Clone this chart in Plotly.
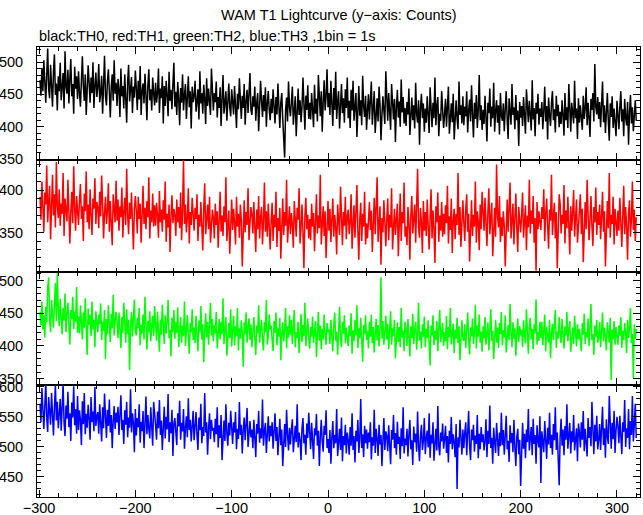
import plotly.graph_objects as go
from plotly.subplots import make_subplots

START_BIN = -299  # first 1-s bin (seconds)

th0_black = [
472,448,491,455,503,462,437,480,521,458,444,496,470,431,486,512,449,467,425,478,
455,499,441,470,483,428,517,462,451,488,436,474,505,447,466,420,493,459,478,443,
486,452,431,472,509,463,440,481,418,457,495,468,437,476,452,500,429,463,484,446,
461,497,438,452,479,420,466,510,447,433,470,489,455,414,462,481,440,503,451,468,
432,474,458,415,490,447,463,428,481,452,406,470,496,439,455,477,421,462,445,487,
459,426,471,442,494,418,455,467,436,482,449,410,463,489,441,458,425,476,452,433,
468,437,452,490,421,459,444,478,405,463,432,471,448,416,485,440,457,427,466,499,
431,454,418,469,443,402,460,437,481,425,449,466,412,444,478,430,455,397,462,438,
447,471,423,439,458,411,486,436,452,420,465,443,404,475,432,459,441,418,490,446,
425,452,438,470,414,446,429,461,401,443,480,420,437,455,409,448,467,430,416,458,
441,419,463,432,398,451,427,475,436,412,448,429,466,403,439,457,421,444,483,426,
418,447,431,462,409,436,452,393,428,471,440,415,449,424,461,400,437,455,426,410,
443,421,458,430,405,446,419,467,433,398,437,452,412,389,352,427,445,408,470,431,
416,439,462,403,428,447,385,433,459,418,441,407,430,476,421,395,448,426,464,412,
437,411,452,428,399,465,420,443,408,480,431,416,455,392,438,472,425,447,489,430,
452,418,471,433,401,460,426,485,412,439,455,397,430,466,421,444,406,458,429,476,
413,440,398,457,425,471,409,436,452,384,428,463,417,441,402,479,431,415,448,395,
426,450,411,437,470,403,429,455,390,421,444,408,462,433,379,418,447,425,404,486,
437,409,452,420,395,466,428,411,443,376,431,457,414,439,400,473,422,446,405,429,
401,438,419,459,387,426,445,410,433,397,468,420,406,441,372,429,451,413,436,392,
428,406,447,418,390,461,425,399,437,413,476,402,431,446,385,420,409,455,427,398,
419,443,400,427,462,389,415,436,407,451,380,424,441,412,396,470,418,433,405,447,
402,431,416,455,391,425,442,408,464,419,383,437,412,449,398,426,480,410,433,395,
426,404,448,415,377,437,421,459,400,431,413,468,392,424,441,406,433,388,452,417,
409,436,393,427,455,412,381,444,420,403,466,418,430,396,449,410,425,370,438,414,
432,401,446,419,389,458,425,407,440,415,394,472,411,429,385,437,420,451,403,428,
415,438,396,424,462,408,432,380,445,418,401,436,455,410,427,391,448,416,434,399,
423,404,441,417,386,452,410,430,398,466,414,392,437,420,405,471,413,428,381,444,
406,433,419,395,448,412,428,461,402,437,415,384,443,426,452,408,497,431,419,446,
412,438,399,425,470,407,433,390,421,452,409,378,436,415,447,398,428,412,385,440,
419,396,431,455,408,427,385,443,414,402,438,372,421,449,405,430,393,416,441,409,
]

th1_red = [
392,365,410,378,351,397,383,429,362,388,405,342,379,418,370,395,356,433,381,367,
401,358,384,372,420,346,390,377,363,412,385,337,374,398,361,428,379,352,393,370,
359,388,407,366,381,340,396,375,422,362,383,354,401,371,347,390,378,414,360,386,
380,355,398,369,417,384,343,373,392,360,376,408,351,387,368,335,395,379,362,411,
364,389,352,381,368,403,344,374,391,359,425,371,348,385,366,397,356,330,378,393,
375,349,392,366,384,338,371,405,360,379,354,387,368,415,343,376,362,396,357,382,
358,385,370,344,399,362,377,351,388,365,410,339,372,356,383,327,369,394,361,378,
371,346,389,362,380,355,397,341,376,435,360,383,350,368,402,337,374,359,391,365,
352,379,366,395,340,371,357,386,362,329,378,408,348,365,383,354,392,338,369,377,
367,343,384,359,375,332,364,398,351,370,346,381,362,415,340,357,376,325,368,389,
353,378,361,336,392,357,372,344,383,365,310,369,388,350,374,359,402,341,366,380,
372,349,386,360,327,377,354,393,343,368,380,336,362,409,351,375,345,384,358,330,
364,385,340,371,356,398,333,367,352,379,319,362,390,347,374,358,412,338,369,381,
348,373,359,332,387,361,345,379,365,402,337,356,383,350,308,369,391,354,371,343,
366,341,384,357,373,328,362,395,349,370,355,418,336,364,381,346,375,320,359,387,
352,378,339,366,390,345,371,356,324,383,361,347,404,368,335,374,358,392,342,369,
377,348,363,395,331,359,382,344,370,406,352,318,366,385,340,372,357,398,336,361,
343,369,386,353,376,327,362,391,348,373,415,339,358,381,312,367,350,388,363,334,
365,390,341,371,356,402,330,360,378,347,369,384,322,355,396,340,374,361,409,345,
357,335,380,362,318,371,393,349,366,383,338,372,425,356,344,379,361,326,387,352,
374,346,389,358,330,367,401,343,376,355,314,381,362,397,339,370,352,386,345,372,
348,382,361,405,337,369,353,390,326,364,378,342,372,359,420,347,380,333,366,388,
362,340,377,395,351,372,316,365,388,346,371,357,410,338,375,363,329,383,354,398,
378,352,391,360,334,374,402,348,367,385,322,362,379,345,430,370,356,393,339,368,
346,375,358,310,366,389,351,377,409,343,369,384,336,361,396,355,327,380,364,350,
371,397,344,365,382,329,370,356,412,349,376,360,393,338,367,305,386,354,375,362,
353,380,366,401,340,372,390,358,331,377,364,418,347,369,385,343,374,308,362,395,
384,349,371,360,406,337,376,355,392,366,324,381,352,373,400,345,367,389,338,361,
370,395,348,378,315,363,386,354,412,372,341,365,393,357,334,380,362,403,347,374,
359,383,342,369,398,351,375,310,366,387,355,420,344,371,360,392,336,378,363,346,
376,352,391,364,333,370,405,348,380,357,318,373,388,345,366,410,353,377,340,368,
]

th2_green = [
452,431,468,425,447,413,460,436,489,505,442,421,470,450,428,463,496,438,511,455,
430,472,446,418,458,439,480,421,449,466,433,402,455,441,475,426,452,437,490,420,
445,419,462,436,410,451,428,473,441,386,457,432,447,415,468,425,440,398,453,437,
421,448,433,465,409,437,423,455,380,441,418,462,430,406,449,427,478,416,438,452,
438,412,451,427,397,444,420,466,431,405,456,418,440,363,429,452,414,436,471,423,
416,443,427,458,401,432,419,448,410,475,425,394,438,421,453,407,430,446,415,461,
433,408,452,424,391,440,417,463,428,403,447,419,436,470,412,425,384,443,421,455,
411,437,420,459,398,426,444,405,431,415,468,400,429,447,414,388,435,421,456,409,
428,404,446,418,392,439,421,461,410,433,375,424,450,413,437,402,428,466,416,441,
407,432,419,452,396,425,441,410,437,418,473,403,428,444,385,420,435,412,456,399,
422,446,401,430,415,458,393,427,411,439,420,368,436,418,451,405,429,442,409,433,
398,427,444,413,386,431,419,462,405,426,440,410,393,437,421,470,402,416,448,425,
431,409,392,438,420,451,401,427,414,443,378,419,436,407,425,458,396,430,413,447,
417,440,403,426,455,398,421,412,437,389,428,449,406,432,415,466,400,424,442,410,
396,429,414,445,405,421,438,383,419,452,408,431,395,426,410,448,417,402,435,421,
425,403,440,417,392,433,451,408,422,386,429,460,411,398,437,419,447,404,428,413,
400,431,415,450,388,424,407,439,416,462,397,427,412,443,405,376,432,418,447,409,
423,396,437,414,448,404,429,390,419,441,408,432,399,425,505,411,438,402,420,446,
410,434,395,421,453,402,427,415,440,381,418,436,406,429,398,458,413,424,392,437,
427,400,441,416,384,430,412,449,403,425,437,394,419,466,408,422,396,433,414,445,
398,426,412,439,405,370,431,416,447,401,423,409,438,392,427,455,406,418,435,400,
421,407,446,395,429,413,458,402,418,434,389,425,411,443,404,430,378,417,439,412,
408,433,397,424,451,410,387,428,415,442,403,420,463,396,431,414,448,405,422,391,
430,411,444,402,419,436,393,427,456,408,423,380,414,440,405,428,397,435,418,452,
401,424,413,447,390,418,432,409,464,421,398,436,411,427,385,419,442,406,430,416,
425,398,439,415,404,456,417,388,428,443,410,426,395,433,419,471,402,421,408,437,
412,437,401,423,448,392,429,414,405,440,381,418,434,409,426,455,397,422,411,444,
419,404,441,412,396,430,416,452,407,424,438,391,415,428,403,446,420,399,433,410,
426,408,392,435,417,449,403,421,413,442,400,427,464,409,418,386,431,414,440,405,
413,437,398,422,451,407,428,415,393,436,419,405,443,348,425,410,438,402,429,417,
402,431,416,444,397,423,409,435,420,389,440,412,427,458,404,418,351,433,411,426,
]

th3_blue = [
572,541,598,556,530,567,610,548,525,583,559,537,590,552,519,566,604,544,575,531,
553,580,527,562,606,540,518,569,547,592,533,556,510,574,549,601,536,563,522,585,
528,561,545,503,576,538,590,521,555,532,570,547,512,583,541,559,526,600,535,550,
558,522,571,540,509,566,531,589,546,515,562,535,579,524,553,498,543,568,530,557,
541,567,520,552,586,528,545,505,561,537,575,516,549,532,596,524,556,540,491,563,
519,548,533,571,507,542,526,560,498,538,584,521,553,530,514,566,537,502,575,545,
536,512,559,531,578,520,544,495,533,567,514,550,529,588,508,541,523,562,485,539,
548,521,503,556,534,577,512,540,526,563,497,532,551,516,581,528,545,509,537,560,
511,537,558,520,495,549,528,572,506,533,518,590,524,541,487,530,556,513,545,527,
532,508,547,521,566,499,536,515,553,478,527,544,510,571,523,502,540,519,560,531,
505,541,524,558,496,530,513,575,520,537,489,528,549,511,535,565,500,525,543,516,
529,498,545,517,483,538,522,560,507,531,514,579,502,526,540,490,518,551,509,535,
518,541,497,525,556,510,533,486,520,547,503,529,468,515,538,500,562,521,494,532,
504,529,546,491,517,535,508,571,499,524,512,478,531,548,506,520,487,539,515,557,
525,496,540,513,480,531,519,555,502,527,468,516,545,509,492,535,520,561,498,513,
490,528,472,515,543,498,520,506,563,485,512,530,495,549,476,518,503,537,489,524,
511,487,533,502,556,495,518,474,527,509,545,490,514,580,498,521,483,535,506,529,
497,524,508,541,479,516,502,562,490,530,513,485,537,504,520,468,511,548,495,526,
519,493,536,507,471,528,512,553,498,523,487,542,505,517,480,531,501,566,489,514,
503,530,484,520,545,496,511,470,534,508,522,492,559,502,476,518,537,495,510,548,
488,515,527,499,556,482,520,506,541,477,513,530,494,568,501,486,524,509,539,497,
512,535,490,518,474,527,505,550,496,521,508,483,538,430,516,499,545,510,487,529,
498,524,541,486,513,560,502,478,529,511,537,492,519,505,553,481,522,496,533,508,
521,494,510,546,483,527,505,569,498,515,472,532,508,490,540,516,485,524,501,557,
503,528,487,519,552,496,510,475,536,507,523,491,545,500,468,517,530,488,512,435,
515,540,497,522,481,529,508,563,494,518,533,486,547,505,520,472,536,510,499,551,
440,526,508,491,543,515,480,532,504,557,498,520,487,538,511,566,495,524,479,436,
518,547,502,529,486,535,512,571,497,521,540,489,526,508,553,494,517,531,476,539,
525,499,541,512,560,493,530,507,484,548,515,533,501,575,520,488,537,509,552,496,
512,538,495,524,567,503,531,482,546,518,505,585,521,497,540,513,560,490,527,550,
534,506,552,519,488,541,525,578,500,531,515,563,496,543,520,585,509,537,572,515,
]

series = [
    ("TH0", th0_black, "#000000", [349, 523.5]),
    ("TH1", th1_red, "#ff0000", [303.5, 436]),
    ("TH2", th2_green, "#00ff00", [341, 513]),
    ("TH3", th3_blue, "#0000ff", [416.5, 604]),
]

x_ticks = [-300, -200, -100, 0, 100, 200, 300]
FONT = "Liberation Sans, Arial, Helvetica, sans-serif"

fig = make_subplots(rows=4, cols=1, shared_xaxes=True, vertical_spacing=0)

for i, (name, vals, col, yr) in enumerate(series, start=1):
    xs = list(range(START_BIN, START_BIN + len(vals)))
    fig.add_trace(go.Scatter(x=xs, y=vals, mode="lines", name=name,
                             line=dict(color=col, width=1.5), showlegend=False),
                  row=i, col=1)
    fig.update_yaxes(range=yr, dtick=50, tick0=0, ticks="inside", ticklen=7,
                     tickcolor="black", showline=True, linecolor="black",
                     linewidth=1, mirror="allticks", showgrid=False,
                     zeroline=False, automargin=False, ticklabelstandoff=10,
                     minor=dict(dtick=10, ticklen=4, ticks="inside",
                                tickcolor="black", showgrid=False),
                     tickfont=dict(family=FONT, size=14.5, color="black"),
                     row=i, col=1)
    fig.update_xaxes(range=[-302.1, 323.9], tickvals=x_ticks, ticks="inside",
                     ticklen=7, tickcolor="black", showline=True,
                     linecolor="black", linewidth=1, mirror="allticks",
                     showgrid=False, zeroline=False, automargin=False,
                     ticklabelstandoff=-2,
                     minor=dict(dtick=20, tick0=0, ticklen=4, ticks="inside",
                                tickcolor="black", showgrid=False),
                     tickfont=dict(family=FONT, size=14.5, color="black"),
                     row=i, col=1)

fig.update_layout(
    width=643, height=515,
    margin=dict(l=37, r=3, t=47, b=18, autoexpand=False),
    plot_bgcolor="white", paper_bgcolor="white",
    font=dict(family=FONT, size=14.5, color="black"),
    annotations=[
        dict(text="WAM T1 Lightcurve (y\u2212axis: Counts)", xref="paper",
             yref="paper", x=0.5, y=1 + (47 - 15) / 450, xanchor="center",
             yanchor="middle", showarrow=False,
             font=dict(family=FONT, size=14.5, color="black")),
        dict(text="black:TH0, red:TH1, green:TH2, blue:TH3 ,1bin = 1s",
             xref="paper", yref="paper", x=0, y=1 + (47 - 36) / 450,
             xanchor="left", yanchor="middle", showarrow=False,
             font=dict(family=FONT, size=14.5, color="black")),
    ],
)

fig.write_html("out.html", config=dict(displayModeBar=False),
               post_script="document.body.style.margin='0';"
                           "document.body.style.padding='0';")
